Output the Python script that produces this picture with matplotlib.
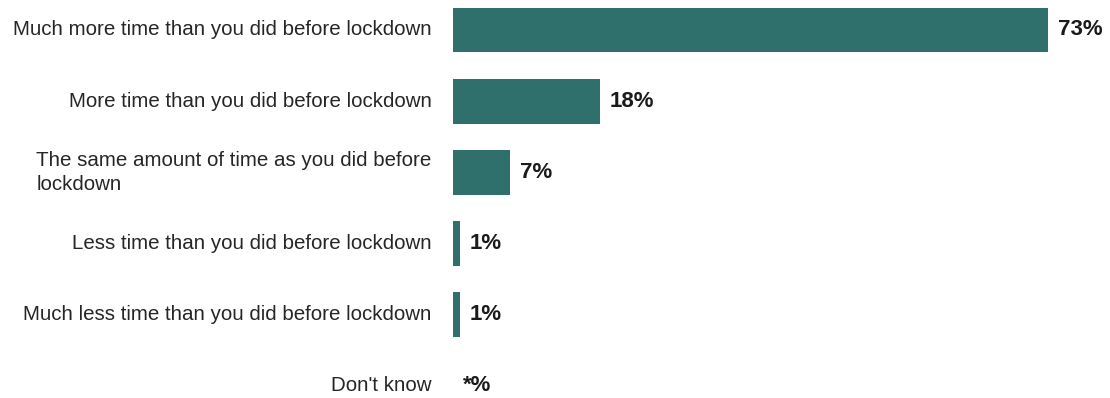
import matplotlib
matplotlib.use("Agg")
import matplotlib.pyplot as plt

categories = [
    "Much more time than you did before lockdown",
    "More time than you did before lockdown",
    "The same amount of time as you did before\nlockdown",
    "Less time than you did before lockdown",
    "Much less time than you did before lockdown",
    "Don't know",
]
values = [73, 18, 7, 0.8, 0.8, 0]
value_labels = ["73%", "18%", "7%", "1%", "1%", "*%"]

plt.rcParams['font.family'] = ['Liberation Sans', 'DejaVu Sans']

W, H = 1110, 398
fig = plt.figure(figsize=(W / 100, H / 100), dpi=100)
x0 = 453
scale = 8.15
ax_right = 1108
ax = fig.add_axes([x0 / W, 0, (ax_right - x0) / W, 1])
ax.set_xlim(0, (ax_right - x0) / scale)
ax.set_ylim(5.169, -0.421)

ypos = list(range(len(categories)))
ax.barh(ypos, values, height=0.63, color="#2F706C", left=0)
ax.axis("off")

for y, v, lab, cat in zip(ypos, values, value_labels, categories):
    ax.annotate(lab, xy=(v, y), xytext=(7, 0), textcoords="offset points",
                va="center", ha="left", fontsize=16, fontweight="bold", color="#1a1a1a")
    ax.annotate(cat, xy=(0, y), xytext=(-15.5, 0), textcoords="offset points",
                va="center", ha="right", multialignment="left", fontsize=14.8,
                color="#262626", linespacing=1.3)

fig.savefig("out.png", dpi=100)
